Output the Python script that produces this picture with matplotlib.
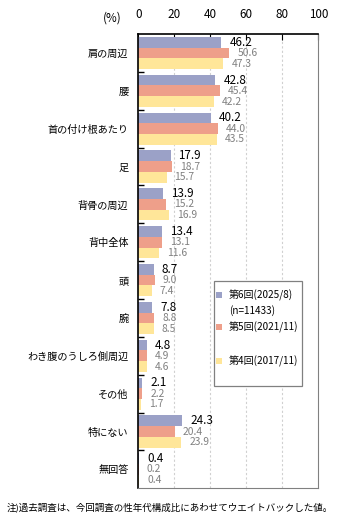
import matplotlib
matplotlib.use("Agg")
import matplotlib.pyplot as plt
from matplotlib.patches import Rectangle
import numpy as np

plt.rcParams['font.family'] = ['Noto Sans CJK JP', 'DejaVu Sans']

categories = ["肩の周辺", "腰", "首の付け根あたり", "足", "背骨の周辺", "背中全体",
              "頭", "腕", "わき腹のうしろ側周辺", "その他", "特にない", "無回答"]
r6 = [46.2, 42.8, 40.2, 17.9, 13.9, 13.4, 8.7, 7.8, 4.8, 2.1, 24.3, 0.4]
r5 = [50.6, 45.4, 44.0, 18.7, 15.2, 13.1, 9.0, 8.8, 4.9, 2.2, 20.4, 0.2]
r4 = [47.3, 42.2, 43.5, 15.7, 16.9, 11.6, 7.4, 8.5, 4.6, 1.7, 23.9, 0.4]
series_labels = ["第6回(2025/8)", "第5回(2021/11)", "第4回(2017/11)"]
n_label = "(n=11433)"
colors = ["#9BA1C7", "#EE9F8A", "#FFE699"]
xticks = [0, 20, 40, 60, 80, 100]
footnote = "注)過去調査は、今回調査の性年代構成比にあわせてウエイトバックした値。"

W, H = 341, 526
fig = plt.figure(figsize=(W/100, H/100), dpi=100)
ax = fig.add_axes([138.3/W, 1-488.3/H, 180/W, (488.3-34)/H])

n = len(categories)
y = np.arange(n)
bh = 0.283
for i, (vals, c) in enumerate(zip([r6, r5, r4], colors)):
    yy = y + (i-1)*bh
    ax.barh(yy, vals, height=bh, color=c, zorder=2)
    for yv, v in zip(yy, vals):
        ax.annotate(f"{v:.1f}", (v, yv), xytext=(8*72/100, 0), textcoords="offset points",
                    va="center", ha="left",
                    fontsize=8.4 if i == 0 else 7.4,
                    color="black" if i == 0 else "#808080")

ax.set_ylim(n-0.5, -0.5)
ax.set_xlim(0, 100)
ax.set_yticks(y)
ax.set_yticklabels(categories, fontsize=7.3)
ax.set_yticks(np.arange(n-1)+0.5, minor=True)
ax.tick_params(axis='y', which='major', length=0, pad=7)
ax.tick_params(axis='y', which='minor', length=4, direction='in', width=1)
ax.xaxis.tick_top()
ax.set_xticks(xticks)
ax.tick_params(axis='x', which='major', direction='in', length=4, labelsize=8.4, pad=9)
for x in xticks[1:-1]:
    ax.axvline(x, color="#D0D0D0", lw=0.8, ls=(0, (2, 2)), zorder=1)

ax.spines['top'].set_color('black')
ax.spines['left'].set_color('black')
ax.spines['top'].set_linewidth(1.2)
ax.spines['left'].set_linewidth(1.2)
ax.spines['right'].set_color('#808080')
ax.spines['bottom'].set_color('#808080')

fig.text(112/W, 1-18.5/H, "(%)", fontsize=8.4, ha="center", va="center")

# legend (manual)
lx0, lx1, ly0, ly1 = 214, 302, 281, 386
fig.patches.append(Rectangle((lx0/W, 1-ly1/H), (lx1-lx0)/W, (ly1-ly0)/H,
                             transform=fig.transFigure, facecolor="white",
                             edgecolor="#808080", lw=0.9, zorder=5))
entries = [(series_labels[0], colors[0], 295), (series_labels[1], colors[1], 327),
           (series_labels[2], colors[2], 361)]
for lab, c, yy in entries:
    fig.patches.append(Rectangle((216/W, 1-(yy+3)/H), 6/W, 6/H, transform=fig.transFigure,
                                 facecolor=c, edgecolor="none", zorder=6))
    fig.text(229/W, 1-yy/H, lab, fontsize=7.2, ha="left", va="center", zorder=7)
fig.text(229/W, 1-311/H, n_label, fontsize=7.2, ha="left", va="center", zorder=7)

fig.text(7/W, 1-507/H, footnote, fontsize=6.85, ha="left", va="center")

fig.savefig("out.png", dpi=100)
